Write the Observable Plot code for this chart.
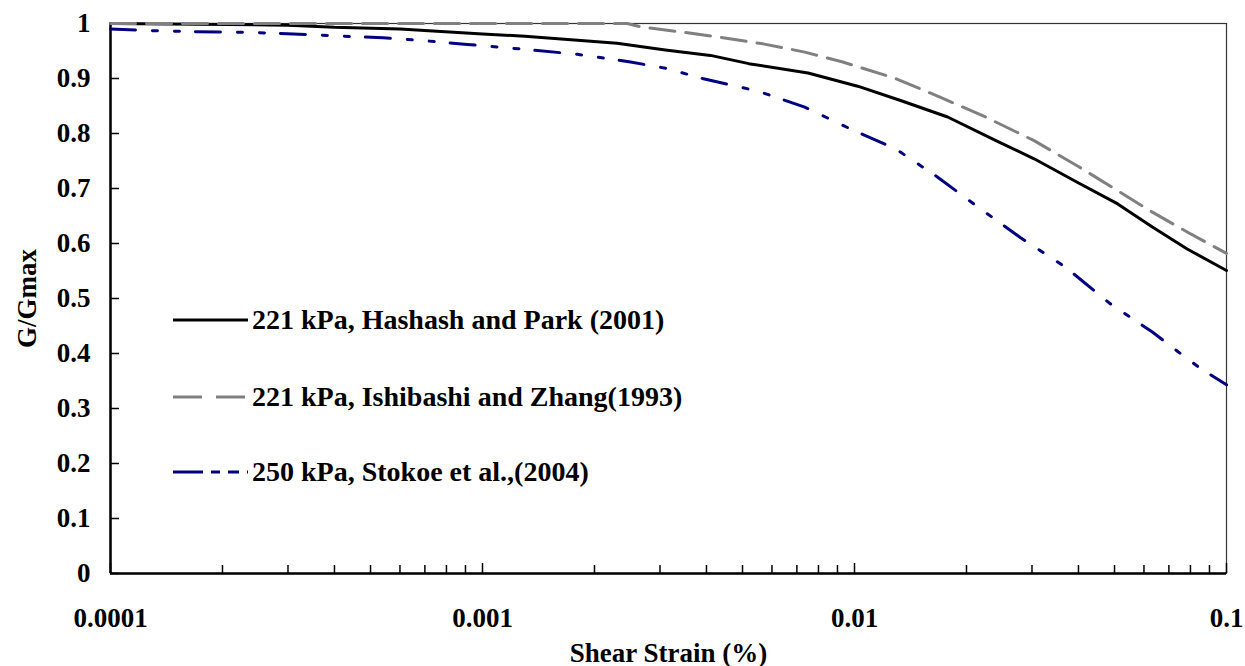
<!DOCTYPE html>
<html><head><meta charset="utf-8">
<script src="https://cdn.jsdelivr.net/npm/d3@7"></script>
<script src="https://cdn.jsdelivr.net/npm/@observablehq/plot@0.6"></script>
<style>
html,body{margin:0;padding:0;background:#fff;}
#wrap{position:relative;width:1245px;height:666px;}
#legend{position:absolute;left:173px;top:0;font-family:'Liberation Serif','Times New Roman',serif;font-weight:bold;font-size:28px;color:#000;}
.row{position:absolute;left:0;display:flex;align-items:center;white-space:nowrap;height:40px;}
.row svg{margin-right:4px;display:block;}
</style></head><body><div id="wrap"><div id="legend"></div></div>
<script>
// Hashash and Park (2001), 221 kPa
const hashashStrain = [0.0001, 0.0003, 0.0004, 0.0006, 0.001, 0.0013, 0.0023, 0.0031, 0.0041, 0.0052, 0.0075, 0.0102, 0.0133, 0.0178, 0.024, 0.0304, 0.0398, 0.051, 0.0632, 0.0784, 0.1];
const hashashG =      [1.0, 0.997, 0.993, 0.99, 0.981, 0.977, 0.964, 0.952, 0.942, 0.927, 0.91, 0.886, 0.86, 0.83, 0.787, 0.754, 0.711, 0.672, 0.63, 0.59, 0.551];
// Ishibashi and Zhang (1993), 221 kPa
const ishibashiStrain = [0.0001, 0.00245, 0.00266, 0.00356, 0.00436, 0.00568, 0.00735, 0.0093, 0.0129, 0.0174, 0.0225, 0.0304, 0.0402, 0.051, 0.0632, 0.0784, 0.1];
const ishibashiG =      [1.0, 1.0, 0.994, 0.983, 0.975, 0.963, 0.948, 0.93, 0.9, 0.863, 0.83, 0.787, 0.739, 0.696, 0.657, 0.621, 0.582];
// Stokoe et al. (2004), 250 kPa
const stokoeStrain = [0.0001, 0.00013, 0.00017, 0.000235, 0.00031, 0.00042, 0.00054, 0.00069, 0.00091, 0.0013, 0.0018, 0.0025, 0.00314, 0.0039, 0.0055, 0.00735, 0.0097, 0.0129, 0.0167, 0.0215, 0.0279, 0.0369, 0.0488, 0.0632, 0.0735, 0.0854, 0.1];
const stokoeG =      [0.99, 0.987, 0.985, 0.984, 0.981, 0.977, 0.974, 0.969, 0.962, 0.953, 0.944, 0.93, 0.918, 0.9, 0.877, 0.848, 0.809, 0.772, 0.721, 0.666, 0.611, 0.557, 0.49, 0.439, 0.405, 0.372, 0.343];

const seriesNames = ["221 kPa, Hashash and Park (2001)", "221 kPa, Ishibashi and Zhang(1993)", "250 kPa, Stokoe et al.,(2004)"];
const seriesColors = ["#000000", "#808080", "#000080"];
const seriesDash = [null, "25,11", "25,17,5,17,5,16"];
const legendDash = [null, "29,14", "30,8,9,8,11,8"];

const xTicks = [0.0001, 0.001, 0.01, 0.1];
const xTickLabels = ["0.0001", "0.001", "0.01", "0.1"];
const yTicks = [0, 0.1, 0.2, 0.3, 0.4, 0.5, 0.6, 0.7, 0.8, 0.9, 1];
const yTickLabels = ["0", "0.1", "0.2", "0.3", "0.4", "0.5", "0.6", "0.7", "0.8", "0.9", "1"];
const xTitle = "Shear Strain (%)";
const yTitle = "G/Gmax";

const xMinor = [];
for (const d of [0.0001, 0.001, 0.01]) for (let k = 2; k <= 9; k++) xMinor.push(+(d * k).toPrecision(3));

const toRows = (xs, ys) => xs.map((x, i) => ({x, y: ys[i]}));
const series = [toRows(hashashStrain, hashashG), toRows(ishibashiStrain, ishibashiG), toRows(stokoeStrain, stokoeG)];

const font = "'Liberation Serif', 'Times New Roman', serif";

const chart = Plot.plot({
  width: 1245,
  height: 666,
  marginLeft: 110,
  marginRight: 19,
  marginTop: 23,
  marginBottom: 93,
  style: {fontFamily: font, fontWeight: "bold", fontSize: "27px", color: "#000", background: "#fff"},
  x: {type: "log", domain: [0.0001, 0.1]},
  y: {domain: [0, 1]},
  marks: [
    Plot.frame({stroke: "#333", strokeWidth: 1.2}),
    Plot.axisX(xMinor, {tickSize: -8, tickFormat: () => "", strokeWidth: 1.5, label: null}),
    Plot.axisX(xTicks, {tickSize: -10, tickFormat: () => "", strokeWidth: 1.5, label: null}),
    Plot.axisX(xTicks, {tickSize: 0, tickPadding: 34, fontSize: 27, fontWeight: "bold", fontFamily: font, tickFormat: d => xTickLabels[xTicks.indexOf(d)], label: null}),
    Plot.axisY(yTicks, {tickSize: -9, tickFormat: () => "", strokeWidth: 1.5, label: null}),
    Plot.axisY(yTicks, {tickSize: 0, tickPadding: 20, fontSize: 27, fontWeight: "bold", fontFamily: font, tickFormat: d => yTickLabels[yTicks.indexOf(d)], label: null}),
    Plot.ruleX([0.0001], {stroke: "#000", strokeWidth: 2.5}),
    Plot.ruleY([0], {stroke: "#000", strokeWidth: 2.5}),
    ...series.map((rows, i) => Plot.line(rows, {x: "x", y: "y", stroke: seriesColors[i], strokeWidth: 3, strokeDasharray: seriesDash[i]})),
    Plot.text([xTitle], {frameAnchor: "bottom", dy: 88, lineAnchor: "bottom", textAnchor: "middle", fontSize: 27, fontWeight: "bold", fontFamily: font, text: d => d}),
    Plot.text([yTitle], {frameAnchor: "left", dx: -75, rotate: -90, lineAnchor: "bottom", textAnchor: "middle", fontSize: 27, fontWeight: "bold", fontFamily: font, text: d => d})
  ]
});
document.getElementById("wrap").prepend(chart);

// legend (overlay inside the plot area)
const legendRowsY = [320, 397, 472];
const legend = document.getElementById("legend");
seriesNames.forEach((name, i) => {
  const row = document.createElement("div");
  row.className = "row";
  row.style.top = (legendRowsY[i] - 20) + "px";
  const svg = d3.create("svg").attr("width", 75).attr("height", 10);
  svg.append("line").attr("x1", 0).attr("x2", 75).attr("y1", 5).attr("y2", 5)
    .attr("stroke", seriesColors[i]).attr("stroke-width", 3.2)
    .attr("stroke-dasharray", legendDash[i]);
  row.appendChild(svg.node());
  const span = document.createElement("span");
  span.textContent = name;
  row.appendChild(span);
  legend.appendChild(row);
});
</script></body></html>
